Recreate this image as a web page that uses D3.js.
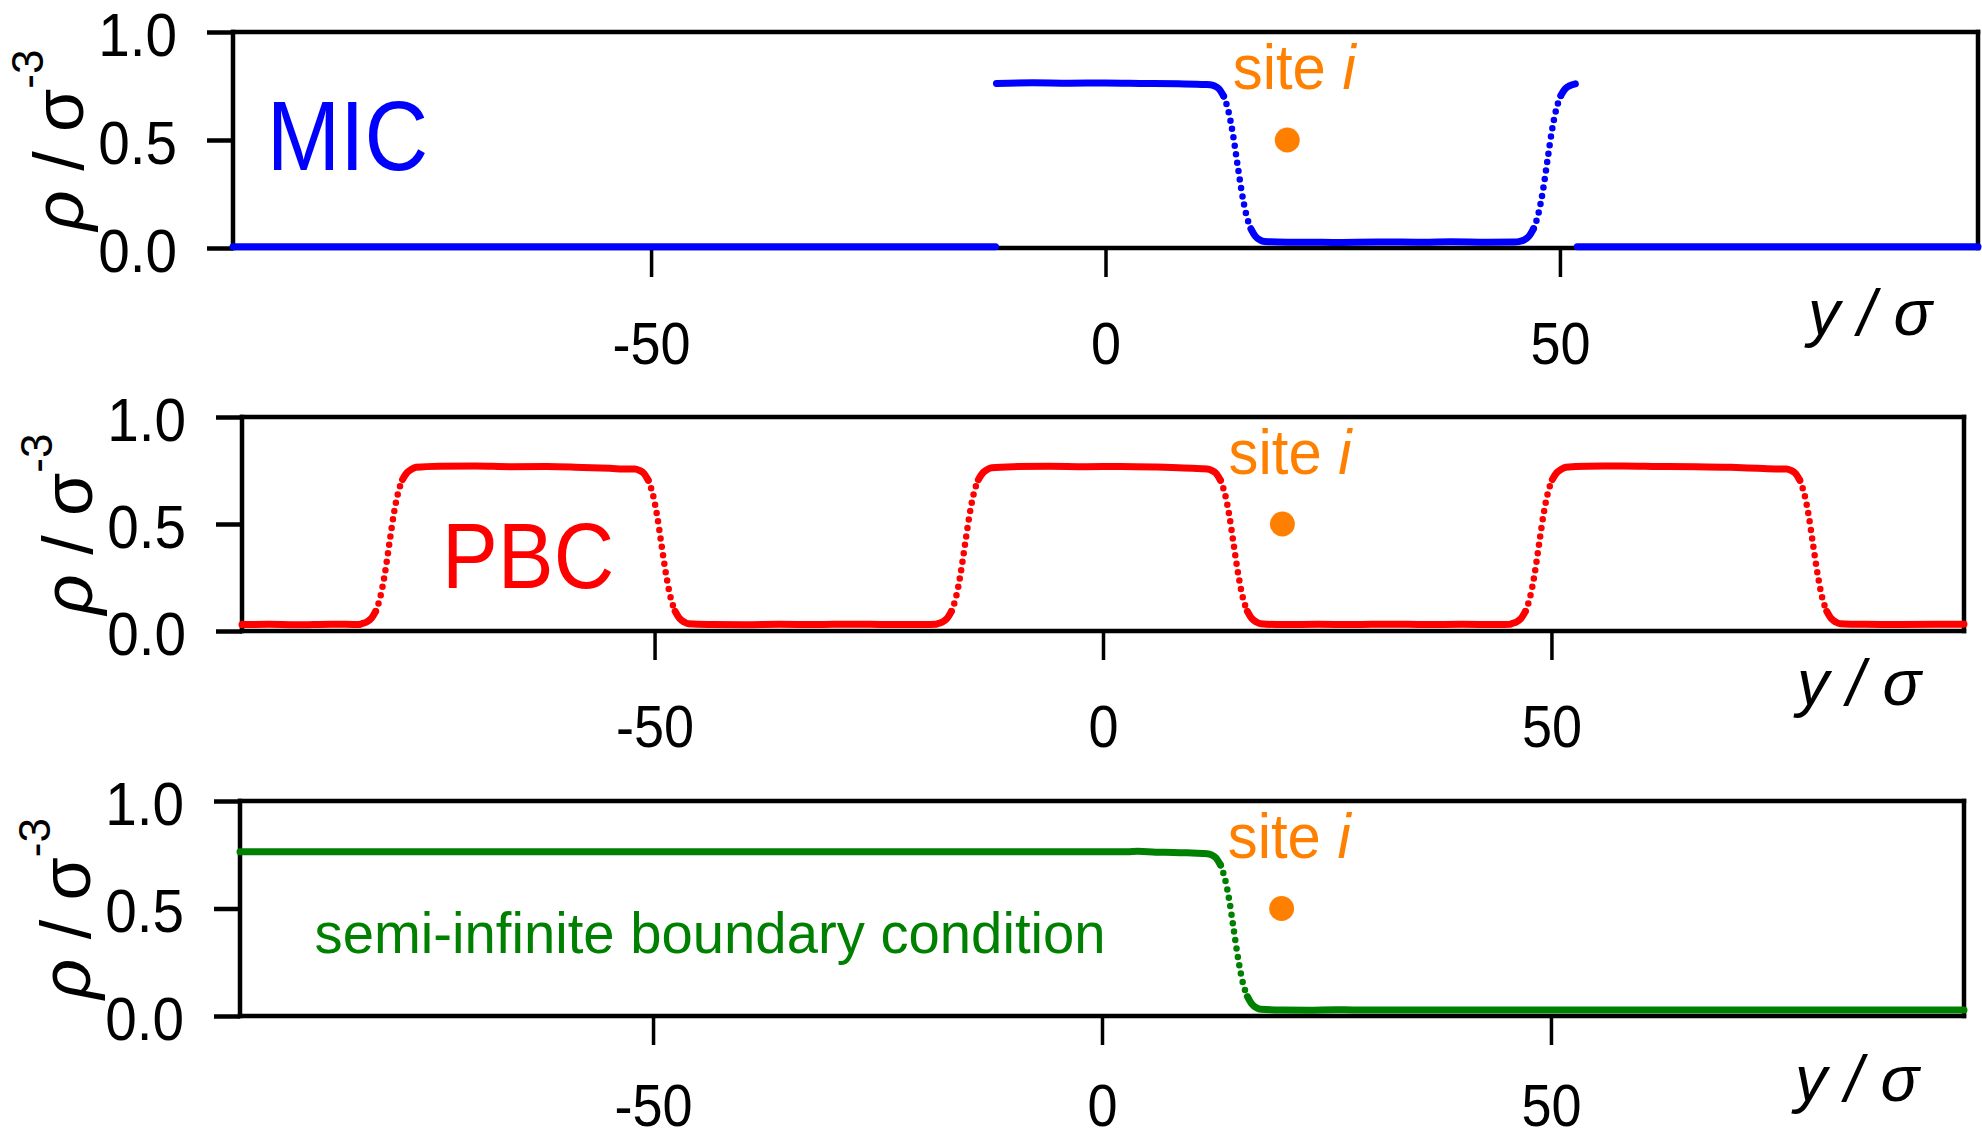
<!DOCTYPE html>
<html>
<head>
<meta charset="utf-8">
<script src="https://cdnjs.cloudflare.com/ajax/libs/d3/7.8.5/d3.min.js"></script>
<style>
  body { margin: 0; background: #fff; }
  svg { display: block; font-family: "Liberation Sans", Arial, sans-serif; }
</style>
</head>
<body>
<svg id="chart"></svg>
<script>
"use strict";

// density profiles [y/sigma, rho]. null = gap in the curve
var micProfile = [
  [-96, 0.006], [-12.1, 0.006],
  null,
  [-12.0, 0.762], [-8, 0.765], [-4, 0.763], [0, 0.764], [4, 0.762], [8, 0.760], [11, 0.757],
  [11.5, 0.756], [12.0, 0.750], [12.5, 0.736], [13.0, 0.703], [13.5, 0.638], [14.0, 0.532],
  [14.5, 0.393], [15.0, 0.257], [15.5, 0.152], [16.0, 0.089], [16.5, 0.054], [17.0, 0.037],
  [17.5, 0.030], [20, 0.027], [25, 0.026], [30, 0.028], [35, 0.027], [38, 0.029], [42, 0.027],
  [45, 0.028], [45.6, 0.031], [46.1, 0.038], [46.6, 0.055], [47.1, 0.090], [47.6, 0.153],
  [48.1, 0.258], [48.6, 0.398], [49.1, 0.538], [49.6, 0.643], [50.1, 0.706], [50.6, 0.738],
  [51.1, 0.752], [51.7, 0.760],
  null,
  [51.9, 0.006], [96, 0.006]
];

var pbcProfile = [
  [-96, 0.030], [-93, 0.031], [-90, 0.029], [-86, 0.032], [-83, 0.030],
  [-82.6, 0.035], [-82.1, 0.042], [-81.6, 0.058], [-81.1, 0.092], [-80.6, 0.155], [-80.1, 0.260],
  [-79.6, 0.400], [-79.1, 0.540], [-78.6, 0.645], [-78.1, 0.708], [-77.6, 0.740], [-77.1, 0.756],
  [-76.6, 0.765], [-74, 0.770], [-70, 0.771], [-66, 0.768], [-62, 0.769], [-58, 0.764],
  [-55, 0.760], [-53, 0.757],
  [-52.2, 0.757], [-51.7, 0.751], [-51.2, 0.737], [-50.7, 0.704], [-50.2, 0.640], [-49.7, 0.535],
  [-49.2, 0.395], [-48.7, 0.260], [-48.2, 0.155], [-47.7, 0.092], [-47.2, 0.058], [-46.7, 0.042],
  [-46.2, 0.034], [-44, 0.030], [-40, 0.029], [-36, 0.031], [-32, 0.030], [-28, 0.032],
  [-24, 0.030], [-20, 0.030], [-18.6, 0.032],
  [-18.4, 0.035], [-17.9, 0.042], [-17.4, 0.058], [-16.9, 0.092], [-16.4, 0.156], [-15.9, 0.262],
  [-15.4, 0.400], [-14.9, 0.538], [-14.4, 0.644], [-13.9, 0.707], [-13.4, 0.739], [-12.9, 0.755],
  [-12.4, 0.763], [-10, 0.768], [-6, 0.770], [-2, 0.768], [2, 0.769], [6, 0.766], [9, 0.762],
  [11, 0.758],
  [11.6, 0.757], [12.1, 0.751], [12.6, 0.737], [13.1, 0.704], [13.6, 0.640], [14.1, 0.535],
  [14.6, 0.395], [15.1, 0.260], [15.6, 0.155], [16.1, 0.092], [16.6, 0.058], [17.1, 0.042],
  [17.6, 0.034], [20, 0.030], [24, 0.031], [28, 0.030], [32, 0.032], [36, 0.030], [40, 0.031],
  [44, 0.030], [45.4, 0.031],
  [45.6, 0.035], [46.1, 0.042], [46.6, 0.058], [47.1, 0.092], [47.6, 0.155], [48.1, 0.260],
  [48.6, 0.400], [49.1, 0.540], [49.6, 0.645], [50.1, 0.708], [50.6, 0.740], [51.1, 0.756],
  [51.6, 0.765], [54, 0.770], [58, 0.771], [62, 0.769], [66, 0.768], [70, 0.765], [73, 0.760],
  [75, 0.757],
  [76.2, 0.757], [76.7, 0.751], [77.2, 0.737], [77.7, 0.704], [78.2, 0.640], [78.7, 0.535],
  [79.2, 0.395], [79.7, 0.260], [80.2, 0.155], [80.7, 0.092], [81.2, 0.058], [81.7, 0.042],
  [82.2, 0.034], [85, 0.031], [89, 0.030], [93, 0.031], [96, 0.032]
];

var semiProfile = [
  [-96, 0.764], [-60, 0.764], [-20, 0.764], [0, 0.764], [2.8, 0.764], [4, 0.766], [6, 0.762],
  [8, 0.761], [10, 0.758], [11.2, 0.756],
  [11.7, 0.755], [12.2, 0.749], [12.7, 0.735], [13.2, 0.702], [13.7, 0.637], [14.2, 0.532],
  [14.7, 0.393], [15.2, 0.257], [15.7, 0.152], [16.2, 0.090], [16.7, 0.055], [17.2, 0.038],
  [17.7, 0.031], [20, 0.028], [23, 0.027], [26, 0.029], [28, 0.028], [40, 0.028], [60, 0.028],
  [96, 0.028]
];

var xTicks = [-50, 0, 50];
var xTickLabels = ["-50", "0", "50"];
var yTicks = [0, 0.5, 1.0];
var yTickLabels = ["0.0", "0.5", "1.0"];
var sitePoint = [20, 0.5];
var panelNames = ["MIC", "PBC", "semi-infinite boundary condition"];
var panelColors = ["#0000ff", "#ff0000", "#008000"];
var siteColor = "#ff8000";

var _profiles = [micProfile, pbcProfile, semiProfile];

// frame of each panel in page pixels, and where its texts sit
var _layout = [
  {left: 233, right: 1978, top: 32, bottom: 248, xLabelDy: 87, xLabelDx: 46, tickPad: 44,
   name: {x: -92.3, y: 0.36, size: 98, sx: 0.9}},
  {left: 242, right: 1964, top: 417, bottom: 631, xLabelDy: 74, xLabelDx: 43, tickPad: 44,
   name: {x: -73.7, y: 0.2, size: 93, sx: 0.9}},
  {left: 240, right: 1964, top: 801, bottom: 1016, xLabelDy: 85, xLabelDx: 45, tickPad: 38,
   name: {x: -87.7, y: 0.293, size: 58, sx: 0.97}}
];

var _svg = d3.select("#chart")
  .attr("width", 1982)
  .attr("height", 1137);

// split a profile into runs: flat parts solid, steep parts dotted
function _runs(points) {
  var runs = [], cur = null;
  for (var i = 1; i < points.length; i++) {
    var a = points[i - 1], b = points[i];
    if (!a || !b) { cur = null; continue; }
    var dotted = Math.abs((b[1] - a[1]) / (b[0] - a[0])) > 0.1;
    if (!cur || cur.dotted !== dotted) {
      cur = {dotted: dotted, pts: [a]};
      runs.push(cur);
    }
    cur.pts.push(b);
  }
  return runs;
}

function _scaledText(g, x, y, size, sx, anchor) {
  return g.append("text")
    .attr("transform", "translate(" + x + "," + y + ") scale(" + sx + ",1)")
    .attr("font-size", size)
    .attr("text-anchor", anchor || "start");
}

function _drawPanel(k) {
  var p = _layout[k];
  var w = p.right - p.left, h = p.bottom - p.top;
  var color = panelColors[k];

  var x = d3.scaleLinear().domain([-96, 96]).range([0, w]);
  var y = d3.scaleLinear().domain([0, 1]).range([h, 0]);

  var g = _svg.append("g")
    .attr("transform", "translate(" + p.left + "," + p.top + ")");

  // y axis
  var yAxis = g.append("g")
    .call(d3.axisLeft(y).tickValues(yTicks).tickSize(26)
      .tickFormat(function(d, i) { return yTickLabels[i]; }));
  yAxis.select(".domain").remove();
  yAxis.selectAll(".tick line").attr("stroke-width", 4.5);
  yAxis.selectAll(".tick text")
    .attr("x", null)
    .attr("dy", "0.38em")
    .attr("transform", "translate(-56,0) scale(0.93,1)")
    .attr("font-size", 61)
    .attr("font-family", null)
    .attr("fill", "#000");

  // x axis
  var xAxis = g.append("g")
    .attr("transform", "translate(0," + h + ")")
    .call(d3.axisBottom(x).tickValues(xTicks).tickSize(29).tickPadding(p.tickPad)
      .tickFormat(function(d, i) { return xTickLabels[i]; }));
  xAxis.select(".domain").remove();
  xAxis.selectAll(".tick line").attr("stroke-width", 3.5);
  xAxis.selectAll(".tick text")
    .attr("transform", "scale(0.9,1)")
    .attr("font-size", 60)
    .attr("font-family", null)
    .attr("fill", "#000");

  // frame
  g.append("g")
    .attr("stroke", "#000")
    .attr("stroke-width", 4.5)
    .selectAll("line")
    .data([[0, 0, w, 0], [0, h, w, h], [0, 0, 0, h], [w, 0, w, h]])
    .enter().append("line")
    .attr("x1", function(d) { return d[0]; })
    .attr("y1", function(d) { return d[1]; })
    .attr("x2", function(d) { return d[2]; })
    .attr("y2", function(d) { return d[3]; })
    .attr("stroke-linecap", "square");

  // axis titles
  var yl = g.append("text")
    .attr("transform", "translate(-150," + (h / 2) + ") rotate(-90)")
    .attr("text-anchor", "middle")
    .attr("font-size", 70);
  yl.append("tspan").attr("font-style", "italic").text("\u03c1");
  yl.append("tspan").text(" / \u03c3");
  yl.append("tspan").attr("font-size", 44).attr("dy", -40).text("-3");

  g.append("text")
    .attr("x", w - p.xLabelDx)
    .attr("y", h + p.xLabelDy)
    .attr("text-anchor", "end")
    .attr("font-size", 64)
    .attr("font-style", "italic")
    .text("y / \u03c3");

  // profile
  var line = d3.line()
    .x(function(d) { return x(d[0]); })
    .y(function(d) { return y(d[1]); })
    .curve(d3.curveMonotoneX);

  g.append("g")
    .selectAll("path")
    .data(_runs(_profiles[k]))
    .enter().append("path")
    .attr("d", function(d) { return line(d.pts); })
    .attr("fill", "none")
    .attr("stroke", color)
    .attr("stroke-linecap", "round")
    .attr("stroke-width", function(d) { return d.dotted ? 6.5 : 7; })
    .attr("stroke-dasharray", function(d) { return d.dotted ? "0 8.5" : null; });

  // site i
  g.append("circle")
    .attr("cx", x(sitePoint[0]))
    .attr("cy", y(sitePoint[1]))
    .attr("r", 12.5)
    .attr("fill", siteColor);

  var st = _scaledText(g, x(14.0), y(0.735), 63, 0.95).attr("fill", siteColor);
  st.append("tspan").text("site ");
  st.append("tspan").attr("font-style", "italic").text("i");

  // boundary condition name
  _scaledText(g, x(p.name.x), y(p.name.y), p.name.size, p.name.sx)
    .attr("fill", color)
    .text(panelNames[k]);
}

_profiles.forEach(function(v, i) { _drawPanel(i); });
</script>
</body>
</html>
